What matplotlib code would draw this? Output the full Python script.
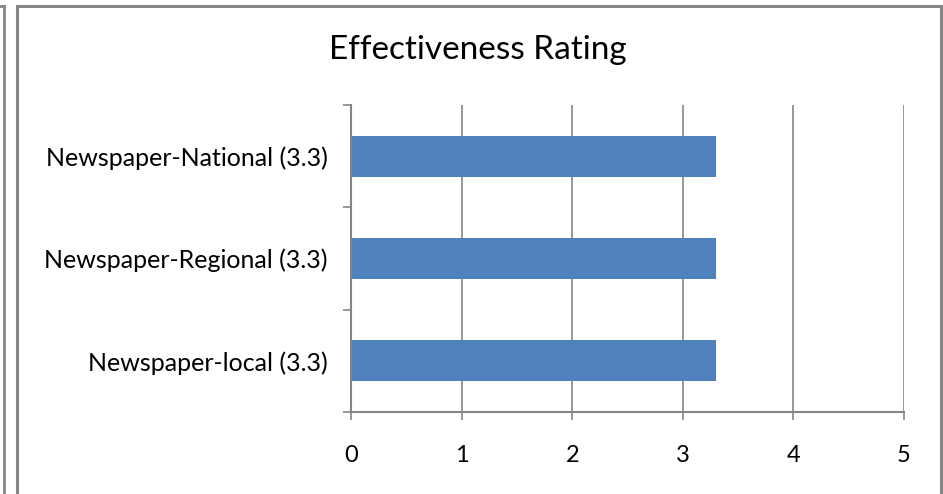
import matplotlib
matplotlib.use("Agg")
import matplotlib.pyplot as plt
from matplotlib.lines import Line2D

categories = ["Newspaper-local (3.3)", "Newspaper-Regional (3.3)", "Newspaper-National (3.3)"]
values = [3.3, 3.3, 3.3]
xticks = [0, 1, 2, 3, 4, 5]
title = "Effectiveness Rating"

plt.rcParams['font.family'] = ['Lato', 'DejaVu Sans']

W, H = 943, 494
fig = plt.figure(figsize=(W / 100, H / 100), dpi=100)
fig.patch.set_facecolor("white")

ax = fig.add_axes([351 / W, 1 - 412 / H, (904 - 351) / W, (412 - 105) / H])
ypos = list(range(len(categories)))
ax.barh(ypos, values, height=0.4, color="#4F81BD", zorder=3)
ax.set_xlim(0, 5)
ax.set_ylim(-0.5, len(categories) - 0.5)
ax.set_xticks(xticks)
ax.set_xticklabels([str(t) for t in xticks], fontsize=17)
ax.set_yticks([i - 0.5 for i in range(len(categories) + 1)], minor=False)
ax.set_yticklabels([])
ax.set_yticks(ypos, minor=True)
ax.set_yticklabels(categories, minor=True, fontsize=18)
ax.tick_params(axis="y", which="major", length=6, color="#868686", direction="out", width=1.2)
ax.tick_params(axis="y", which="minor", length=0, pad=17)
ax.tick_params(axis="x", length=6, color="#868686", direction="out", width=1.2, pad=18)
ax.grid(axis="x", color="#868686", linewidth=1.2, zorder=0)
for s in ["top", "right"]:
    ax.spines[s].set_visible(False)
for s in ["left", "bottom"]:
    ax.spines[s].set_color("#868686")
    ax.spines[s].set_linewidth(1.5)
    ax.spines[s].set_zorder(4)

fig.text(478 / W, 1 - 50 / H, title, ha="center", va="center", fontsize=24)

gray = "#868686"
fig.add_artist(Line2D([17 / W, 17 / W], [0, 1 - 6 / H], color=gray, linewidth=2.2, transform=fig.transFigure))
fig.add_artist(Line2D([17 / W, 941 / W], [1 - 6 / H, 1 - 6 / H], color=gray, linewidth=2.2, transform=fig.transFigure))
fig.add_artist(Line2D([941 / W, 941 / W], [0, 1 - 6 / H], color=gray, linewidth=2.2, transform=fig.transFigure))
fig.add_artist(Line2D([4 / W, 4 / W], [0, 1 - 6 / H], color=gray, linewidth=2.0, transform=fig.transFigure))
fig.add_artist(Line2D([0, 4 / W], [1 - 6 / H, 1 - 6 / H], color=gray, linewidth=2.0, transform=fig.transFigure))

fig.savefig("out.png", dpi=100, facecolor="white")
